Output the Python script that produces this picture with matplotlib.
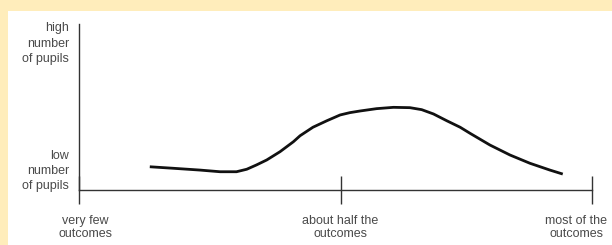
import matplotlib
matplotlib.use("Agg")
import matplotlib.pyplot as plt
from matplotlib.patches import Rectangle
import matplotlib.transforms as mtransforms

plt.rcParams['font.family'] = ['Liberation Sans', 'DejaVu Sans']

# Curve: share of outcomes achieved (x, 0-100) vs number of pupils (y, 0-100)
curve_x = [13.8, 18.3, 23.6, 27.5, 30.7, 32.7, 34.6, 36.6, 39.2, 41.8, 43.1,
           45.6, 48.3, 50.9, 52.8, 54.8, 58.0, 61.3, 64.5, 66.8, 69.1, 71.7,
           74.3, 76.2, 80.1, 84.0, 87.9, 91.8, 94.3]
curve_y = [14.0, 13.1, 12.0, 11.0, 11.0, 12.5, 15.1, 18.1, 23.1, 29.1, 32.7,
           37.8, 41.7, 45.2, 46.6, 47.6, 49.0, 49.8, 49.6, 48.4, 45.8, 41.7,
           37.8, 34.2, 27.1, 21.1, 16.1, 12.0, 9.6]

x_ticks = [0, 51, 100]
x_labels = ["very few\noutcomes", "about half the\noutcomes", "most of the\noutcomes"]
x_label_pos = [1.2, 50.9, 96.9]
y_label_pos = [88, 11.4]
y_labels = ["high\nnumber\nof pupils", "low\nnumber\nof pupils"]

W, H = 612, 245
fig = plt.figure(figsize=(W / 100, H / 100), dpi=100)
fig.patch.set_facecolor('#FFEDBB')
bg = Rectangle((8 / W, 0), 1 - 8 / W, (H - 11) / H,
               transform=fig.transFigure, facecolor='white',
               edgecolor='none', zorder=-10)
fig.add_artist(bg)

ax = fig.add_axes([79 / W, (H - 190) / H, (592 - 79) / W, (190 - 24) / H])
ax.set_zorder(5)
ax.set_facecolor('none')
ax.set_xlim(0, 100)
ax.set_ylim(0, 100)

axis_color = '#333333'
for s in ['top', 'right']:
    ax.spines[s].set_visible(False)
for s in ['left', 'bottom']:
    ax.spines[s].set_color(axis_color)
    ax.spines[s].set_linewidth(1.0)

ax.set_xticks(x_ticks)
ax.set_xticklabels([])
ax.tick_params(axis='x', direction='inout', length=20, width=1.0, color=axis_color)
ax.set_yticks([])

ax.plot(curve_x, curve_y, color='#111111', lw=2.0, solid_capstyle='butt',
        solid_joinstyle='round', clip_on=False)

text_color = '#4a4a4a'
trans_x = mtransforms.blended_transform_factory(ax.transData, ax.transAxes)
for xp, lab in zip(x_label_pos, x_labels):
    ax.text(xp, -0.148, lab, transform=trans_x, ha='center', va='top',
            fontsize=9, color=text_color, linespacing=1.15)

trans_y = mtransforms.blended_transform_factory(ax.transAxes, ax.transData)
for yp, lab in zip(y_label_pos, y_labels):
    ax.text(-0.0195, yp, lab, transform=trans_y, ha='right', va='center',
            fontsize=9, color=text_color, linespacing=1.38)

fig.savefig('out.png', dpi=100, facecolor=fig.get_facecolor())
